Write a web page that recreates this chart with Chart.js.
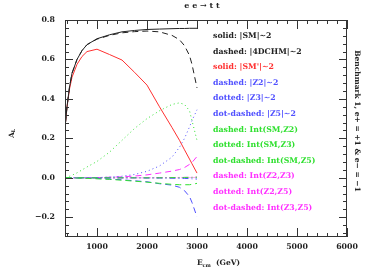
<!DOCTYPE html>
<html>
<head>
<meta charset="utf-8">
<script src="https://cdn.jsdelivr.net/npm/chart.js@4.4.1/dist/chart.umd.min.js"></script>
<style>
  html, body { margin: 0; padding: 0; background: #fff; }
</style>
</head>
<body>
<canvas id="asym" width="374" height="276"></canvas>
<script>
// centre-of-mass energy (GeV) at which the asymmetry was read
const energy = [370, 400, 450, 500, 600, 700, 800, 1000, 1250, 1500, 1750, 2000, 2250, 2500, 2650, 2750, 2850, 2900, 3000];

const smSq      = [0.28, 0.36, 0.46, 0.53, 0.60, 0.645, 0.675, 0.705, 0.725, 0.74, 0.747, 0.752, 0.754, 0.756, 0.757, 0.757, 0.758, 0.758, 0.758];
const dchmSq    = [0.28, 0.36, 0.46, 0.53, 0.60, 0.645, 0.675, 0.703, 0.722, 0.735, 0.741, 0.744, 0.74, 0.722, 0.70, 0.67, 0.62, 0.575, 0.456];
const smPrimeSq = [0.28, 0.36, 0.45, 0.51, 0.575, 0.615, 0.64, 0.652, 0.625, 0.597, 0.535, 0.47, 0.36, 0.255, 0.19, 0.142, 0.095, 0.071, 0.024];
const z2Sq      = [0, 0, 0, 0, -0.001, -0.001, -0.002, -0.003, -0.006, -0.01, -0.015, -0.02, -0.03, -0.037, -0.048, -0.065, -0.095, -0.125, -0.198];
const z3Sq      = [0, 0, 0, 0, 0, 0, 0, 0.001, 0.004, 0.008, 0.017, 0.033, 0.06, 0.105, 0.155, 0.2, 0.258, 0.29, 0.345];
const z5Sq      = [0, 0, 0, 0, 0, 0, 0, 0, 0, 0, 0, -0.001, -0.001, -0.002, -0.003, -0.003, -0.004, -0.005, -0.006];
const intSmZ2   = [0, 0, 0, -0.001, -0.001, -0.002, -0.003, -0.005, -0.008, -0.012, -0.017, -0.022, -0.028, -0.033, -0.035, -0.035, -0.035, -0.033, -0.028];
const intSmZ3   = [0, 0.003, 0.008, 0.013, 0.025, 0.04, 0.055, 0.083, 0.13, 0.19, 0.25, 0.3, 0.34, 0.372, 0.38, 0.372, 0.34, 0.29, 0.19];
const intSmZ5   = [0, 0, 0, 0, 0, 0, 0, 0, 0, 0, 0, 0, 0, 0.001, 0.001, 0.002, 0.002, 0.002, 0.003];
const intZ2Z3   = [0, 0, 0, 0, 0, 0, 0, 0.001, 0.003, 0.005, 0.009, 0.015, 0.024, 0.034, 0.042, 0.052, 0.068, 0.078, 0.108];
const intZ2Z5   = [0, 0, 0, 0, 0, 0, 0, 0, 0, 0, 0, 0, 0, 0, 0, 0.001, 0.001, 0.001, 0.002];
const intZ3Z5   = [0, 0, 0, 0, 0, 0, 0, 0, 0, 0, 0, 0, 0.001, 0.001, 0.002, 0.002, 0.003, 0.003, 0.004];

const xTicks = [1000, 2000, 3000, 4000, 5000, 6000];
const yTicks = [-0.2, 0.0, 0.2, 0.4, 0.6, 0.8];

const BLACK = "#222", RED = "#ff3030", BLUE = "#5050ff", GREEN = "#30e030", MAGENTA = "#ff30ff";

const legendLines = [
  ["solid: |SM|~2", BLACK],
  ["dashed: |4DCHM|~2", BLACK],
  ["solid: |SM'|~2", RED],
  ["dashed: |Z2|~2", BLUE],
  ["dotted: |Z3|~2", BLUE],
  ["dot-dashed: |Z5|~2", BLUE],
  ["dashed: Int(SM,Z2)", GREEN],
  ["dotted: Int(SM,Z3)", GREEN],
  ["dot-dashed: Int(SM,Z5)", GREEN],
  ["dashed: Int(Z2,Z3)", MAGENTA],
  ["dotted: Int(Z2,Z5)", MAGENTA],
  ["dot-dashed: Int(Z3,Z5)", MAGENTA]
];

const DASH = [6, 4], DOT = [1, 3], DOTDASH = [6, 3, 1, 3];
const FONT = "bold 7.8px 'DejaVu Serif'";

function series(vals, color, dash) {
  return {
    data: energy.map((e, i) => ({ x: e, y: vals[i] })),
    borderColor: color,
    borderWidth: 1,
    borderDash: dash,
    pointRadius: 0,
    tension: 0,
    fill: false
  };
}

const frameTicks = {
  id: "frameTicks",
  afterDatasetsDraw(chart) {
    const { ctx, chartArea: a, scales: { x, y } } = chart;
    ctx.save();
    ctx.strokeStyle = "#333";
    ctx.lineWidth = 1;
    ctx.setLineDash([]);
    ctx.strokeRect(a.left + 0.5, a.top + 0.5, a.right - a.left - 1, a.bottom - a.top - 1);
    ctx.beginPath();
    for (let v = 400; v <= 6000; v += 200) {
      const px = Math.round(x.getPixelForValue(v)) + 0.5;
      const len = v % 1000 === 0 ? 9 : 4;
      ctx.moveTo(px, a.bottom); ctx.lineTo(px, a.bottom - len);
      ctx.moveTo(px, a.top); ctx.lineTo(px, a.top + len);
    }
    for (let k = -7; k <= 20; k++) {
      const v = k * 0.04;
      const py = Math.round(y.getPixelForValue(v)) + 0.5;
      const len = k % 5 === 0 ? 8 : 4;
      ctx.moveTo(a.left, py); ctx.lineTo(a.left + len, py);
      ctx.moveTo(a.right, py); ctx.lineTo(a.right - len, py);
    }
    ctx.stroke();
    ctx.restore();
  }
};

const labels = {
  id: "labels",
  afterDraw(chart) {
    const { ctx } = chart;
    ctx.save();
    ctx.textBaseline = "middle";
    // title
    ctx.fillStyle = "#222";
    ctx.font = "bold 8px 'DejaVu Serif'";
    ctx.textAlign = "center";
    ctx.fillText("e e \u2192 t t", 202, 6);
    // legend text
    ctx.font = FONT;
    ctx.textAlign = "left";
    legendLines.forEach(([t, c], i) => {
      ctx.fillStyle = c;
      ctx.fillText(t, 213, 36 + i * 15.6);
    });
    // right side caption
    ctx.fillStyle = "#222";
    ctx.font = "bold 7.5px 'DejaVu Serif'";
    ctx.save();
    ctx.translate(357, 121);
    ctx.rotate(Math.PI / 2);
    ctx.textAlign = "center";
    ctx.fillText("Benchmark 1, e+ = +1 & e\u2212 = \u22121", 0, 0);
    ctx.restore();
    // y axis title A_L
    ctx.save();
    ctx.translate(12, 135);
    ctx.rotate(-Math.PI / 2);
    ctx.textAlign = "left";
    ctx.font = "bold 7.5px 'DejaVu Serif'";
    ctx.fillText("A", -3, 0);
    ctx.font = "bold 5px 'DejaVu Serif'";
    ctx.fillText("L", 2.5, 2);
    ctx.restore();
    // x axis title E_cm (GeV)
    ctx.textAlign = "left";
    ctx.font = "bold 7.5px 'DejaVu Serif'";
    ctx.fillText("E", 197, 263);
    ctx.font = "bold 5px 'DejaVu Serif'";
    ctx.fillText("cm", 202.5, 265.5);
    ctx.font = "bold 7.5px 'DejaVu Serif'";
    ctx.fillText("(GeV)", 216, 263);
    ctx.restore();
  }
};

const tickFont = { family: "DejaVu Serif", size: 7.8, weight: "bold" };

new Chart(document.getElementById("asym"), {
  type: "line",
  data: {
    datasets: [
      series(smSq, BLACK, []),
      series(dchmSq, BLACK, DASH),
      series(smPrimeSq, RED, []),
      series(intSmZ3, GREEN, DOT),
      series(intSmZ2, GREEN, DASH),
      series(intSmZ5, GREEN, DOTDASH),
      series(z3Sq, BLUE, DOT),
      series(z2Sq, BLUE, DASH),
      series(z5Sq, BLUE, DOTDASH),
      series(intZ2Z3, MAGENTA, DASH),
      series(intZ2Z5, MAGENTA, DOT),
      series(intZ3Z5, MAGENTA, DOTDASH)
    ]
  },
  options: {
    responsive: false,
    animation: false,
    layout: { padding: { top: 20, right: 27, left: 0, bottom: 0 } },
    plugins: { legend: { display: false }, tooltip: { enabled: false } },
    scales: {
      x: {
        type: "linear",
        min: 360,
        max: 6000,
        afterBuildTicks: s => { s.ticks = xTicks.map(v => ({ value: v })); },
        afterFit: s => { s.height = 39; },
        grid: { display: false, drawTicks: false },
        border: { display: false },
        ticks: { font: tickFont, color: "#222", padding: 5, maxRotation: 0, autoSkip: false, callback: v => String(v) }
      },
      y: {
        min: -0.3,
        max: 0.8,
        afterBuildTicks: s => { s.ticks = yTicks.map(v => ({ value: v })); },
        afterFit: s => { s.width = 65; },
        grid: { display: false, drawTicks: false },
        border: { display: false },
        ticks: {
          font: tickFont,
          color: "#222",
          padding: 10,
          callback: v => (v < 0 ? "\u2212" : "") + Math.abs(v).toFixed(1)
        }
      }
    }
  },
  plugins: [frameTicks, labels]
});
</script>
</body>
</html>
